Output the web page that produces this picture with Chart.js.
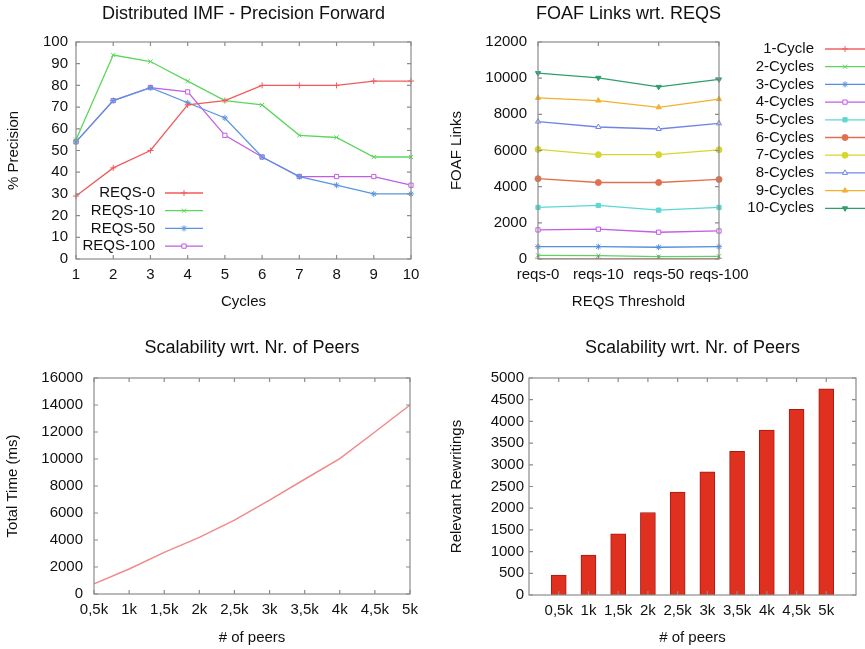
<!DOCTYPE html>
<html>
<head>
<meta charset="utf-8">
<script src="https://cdn.jsdelivr.net/npm/chart.js@4/dist/chart.umd.min.js"></script>
<style>
  body { margin: 0; background: #fff; }
  canvas { position: absolute; }
</style>
</head>
<body>
<canvas id="precision" width="430" height="320" style="left:0;top:0"></canvas>
<canvas id="foaf" width="435" height="320" style="left:430px;top:0"></canvas>
<canvas id="time" width="430" height="319" style="left:0;top:330px"></canvas>
<canvas id="rewrite" width="435" height="319" style="left:430px;top:330px"></canvas>
<script>
// --- data ---
const cycles = ['1', '2', '3', '4', '5', '6', '7', '8', '9', '10'];
const reqs0   = [29, 42, 50, 71, 73, 80, 80, 80, 82, 82];
const reqs10  = [55, 94, 91, 82, 73, 71, 57, 56, 47, 47];
const reqs50  = [54, 73, 79, 72, 65, 47, 38, 34, 30, 30];
const reqs100 = [54, 73, 79, 77, 57, 47, 38, 38, 38, 34];

const thresholds = ['reqs-0', 'reqs-10', 'reqs-50', 'reqs-100'];
const cyc1  = [10, 10, 10, 10];
const cyc2  = [200, 185, 130, 150];
const cyc3  = [680, 680, 650, 680];
const cyc4  = [1610, 1650, 1480, 1550];
const cyc5  = [2850, 2960, 2700, 2850];
const cyc6  = [4440, 4230, 4230, 4400];
const cyc7  = [6060, 5770, 5770, 6040];
const cyc8  = [7600, 7300, 7190, 7500];
const cyc9  = [8910, 8760, 8390, 8840];
const cyc10 = [10280, 10020, 9520, 9930];

const peers = ['0,5k', '1k', '1,5k', '2k', '2,5k', '3k', '3,5k', '4k', '4,5k', '5k'];
const totalTime = [750, 1850, 3080, 4190, 5470, 6950, 8500, 10030, 12000, 14000];
const rewritings = [460, 920, 1410, 1900, 2370, 2840, 3310, 3800, 4280, 4750];

const FONT = '"Liberation Sans", Arial, sans-serif';
const TXT = 15;
Chart.defaults.font.family = FONT;
Chart.defaults.color = '#111';

// gnuplot-like frame with inward ticks on every side
const frame = {
  id: 'frame',
  afterDatasetsDraw(chart) {
    const { ctx, chartArea: a, scales } = chart;
    ctx.save();
    ctx.strokeStyle = '#8c8c8c';
    ctx.lineWidth = 1.2;
    ctx.strokeRect(a.left, a.top, a.right - a.left, a.bottom - a.top);
    ctx.beginPath();
    scales.x.ticks.forEach((t, i) => {
      const px = scales.x.getPixelForTick(i);
      ctx.moveTo(px, a.bottom); ctx.lineTo(px, a.bottom - 4);
      ctx.moveTo(px, a.top); ctx.lineTo(px, a.top + 4);
    });
    scales.y.ticks.forEach((t, i) => {
      const py = scales.y.getPixelForTick(i);
      ctx.moveTo(a.left, py); ctx.lineTo(a.left + 4, py);
      ctx.moveTo(a.right, py); ctx.lineTo(a.right - 4, py);
    });
    ctx.stroke();
    ctx.restore();
  }
};

// title centred over the plot box, like gnuplot does
const heading = {
  id: 'heading',
  afterDraw(chart, args, opts) {
    if (!opts || !opts.text) return;
    const { ctx, chartArea: a } = chart;
    ctx.save();
    ctx.font = '18px ' + FONT;
    ctx.fillStyle = '#111';
    ctx.textAlign = 'center';
    ctx.textBaseline = 'middle';
    ctx.fillText(opts.text, (a.left + a.right) / 2, opts.y);
    ctx.restore();
  }
};

// key drawn like gnuplot: label right aligned, then a sample line with its marker
const key = {
  id: 'key',
  afterDraw(chart, args, opts) {
    if (!opts || opts.textRight === undefined) return;
    const ctx = chart.ctx;
    ctx.save();
    ctx.font = TXT + 'px ' + FONT;
    ctx.textAlign = 'right';
    ctx.textBaseline = 'middle';
    chart.data.datasets.forEach((ds, i) => {
      const y = opts.top + i * opts.step;
      ctx.fillStyle = '#111';
      ctx.fillText(ds.label, opts.textRight, y);
      ctx.strokeStyle = ds.borderColor;
      ctx.lineWidth = ds.borderWidth;
      ctx.beginPath();
      ctx.moveTo(opts.lineFrom, y);
      ctx.lineTo(opts.lineTo, y);
      ctx.stroke();
      ctx.fillStyle = ds.pointBackgroundColor || ds.borderColor;
      ctx.lineWidth = 1;
      Chart.helpers.drawPoint(ctx, {
        pointStyle: ds.pointStyle, radius: ds.pointRadius,
        rotation: ds.pointRotation || 0, borderWidth: 1
      }, (opts.lineFrom + opts.lineTo) / 2, y);
    });
    ctx.restore();
  }
};

function series(label, data, color, style, open, rot) {
  return {
    label: label, data: data,
    borderColor: color, borderWidth: 1.3,
    pointStyle: style, pointRadius: 3, pointHoverRadius: 3,
    pointBorderColor: color, pointBorderWidth: 1,
    pointBackgroundColor: open ? '#fff' : color,
    pointRotation: rot || 0,
    tension: 0
  };
}

function yAxis(w, min, max, step, title, titlePad, tickPad) {
  return {
    min: min, max: max,
    afterFit: s => { s.width = w; },
    grid: { display: false, drawTicks: false },
    border: { display: false },
    ticks: { stepSize: step, padding: tickPad, font: { size: TXT }, callback: v => String(v) },
    title: { display: true, text: title, font: { size: TXT }, padding: { top: titlePad, bottom: titlePad } }
  };
}

function xAxis(h, title, titlePad) {
  return {
    afterFit: s => { s.height = h; },
    offset: false,
    grid: { display: false, drawTicks: false },
    border: { display: false },
    ticks: { padding: 7, autoSkip: false, maxRotation: 0, font: { size: TXT } },
    title: { display: true, text: title, font: { size: TXT }, padding: { top: 0, bottom: titlePad } }
  };
}

new Chart(document.getElementById('precision'), {
  type: 'line',
  data: {
    labels: cycles,
    datasets: [
      series('REQS-0', reqs0, '#f25a5a', 'cross'),
      series('REQS-10', reqs10, '#5cd65c', 'crossRot'),
      series('REQS-50', reqs50, '#5896e0', 'star'),
      series('REQS-100', reqs100, '#c05ee0', 'rect', true)
    ]
  },
  options: {
    responsive: false, animation: false,
    layout: { padding: { top: 42, right: 19 } },
    plugins: {
      legend: { display: false }, tooltip: { enabled: false },
      heading: { text: 'Distributed IMF - Precision Forward', y: 14 },
      key: { textRight: 155, lineFrom: 165, lineTo: 203, top: 193, step: 17.7 }
    },
    scales: {
      x: xAxis(61, 'Cycles', 9),
      y: yAxis(76, 0, 100, 10, '% Precision', 5, 8)
    }
  },
  plugins: [frame, heading, key]
});

new Chart(document.getElementById('foaf'), {
  type: 'line',
  data: {
    labels: thresholds,
    datasets: [
      series('1-Cycle', cyc1, '#f06262', 'cross'),
      series('2-Cycles', cyc2, '#5fd25f', 'crossRot'),
      series('3-Cycles', cyc3, '#528fe0', 'star'),
      series('4-Cycles', cyc4, '#c25ee2', 'rect', true),
      series('5-Cycles', cyc5, '#5cd8d0', 'rect'),
      series('6-Cycles', cyc6, '#e2704f', 'circle'),
      series('7-Cycles', cyc7, '#d6d62e', 'circle'),
      series('8-Cycles', cyc8, '#7283e8', 'triangle', true),
      series('9-Cycles', cyc9, '#f2b22e', 'triangle'),
      series('10-Cycles', cyc10, '#2f9e6c', 'triangle', false, 180)
    ]
  },
  options: {
    responsive: false, animation: false,
    layout: { padding: { top: 42, right: 146 } },
    plugins: {
      legend: { display: false }, tooltip: { enabled: false },
      heading: { text: 'FOAF Links wrt. REQS', y: 14 },
      key: { textRight: 384, lineFrom: 395, lineTo: 435, top: 49, step: 17.7 }
    },
    scales: {
      x: xAxis(61, 'REQS Threshold', 9),
      y: yAxis(108, 0, 12000, 2000, 'FOAF Links', 18, 11)
    }
  },
  plugins: [frame, heading, key]
});

new Chart(document.getElementById('time'), {
  type: 'line',
  data: {
    labels: peers,
    datasets: [
      { label: 'Total Time', data: totalTime, borderColor: '#f08a8a', borderWidth: 1.5, pointRadius: 0, tension: 0 }
    ]
  },
  options: {
    responsive: false, animation: false,
    layout: { padding: { top: 48, right: 20 } },
    plugins: {
      legend: { display: false }, tooltip: { enabled: false },
      heading: { text: 'Scalability wrt. Nr. of Peers', y: 18 }
    },
    scales: {
      x: xAxis(55, '# of peers', 2),
      y: yAxis(94, 0, 16000, 2000, 'Total Time (ms)', 4, 11)
    }
  },
  plugins: [frame, heading]
});

new Chart(document.getElementById('rewrite'), {
  type: 'bar',
  data: {
    datasets: [{
      label: 'Relevant Rewritings',
      data: rewritings.map((v, i) => ({ x: i + 1, y: v })),
      backgroundColor: '#e0301f', borderColor: '#a51a12', borderWidth: 1,
      barThickness: 15
    }]
  },
  options: {
    responsive: false, animation: false,
    layout: { padding: { top: 48, right: 9 } },
    plugins: {
      legend: { display: false }, tooltip: { enabled: false },
      heading: { text: 'Scalability wrt. Nr. of Peers', y: 18 }
    },
    scales: {
      x: Object.assign(xAxis(54, '# of peers', 2), {
        type: 'linear', min: 0, max: peers.length + 1,
        afterBuildTicks: s => { s.ticks = peers.map((p, i) => ({ value: i + 1 })); },
        ticks: { padding: 7, autoSkip: false, maxRotation: 0, font: { size: TXT }, callback: v => peers[v - 1] }
      }),
      y: yAxis(99, 0, 5000, 500, 'Relevant Rewritings', 18, 5)
    }
  },
  plugins: [frame, heading]
});
</script>
</body>
</html>
